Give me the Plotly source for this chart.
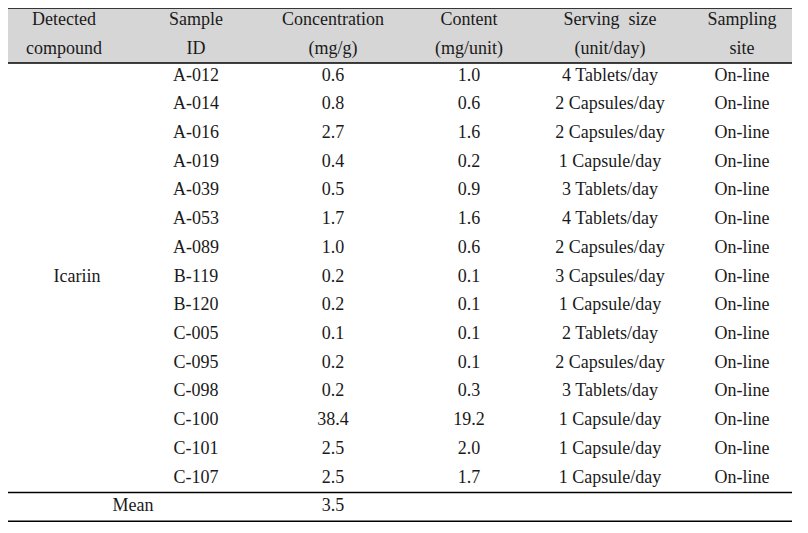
import plotly.graph_objects as go

# table content
headers = [
    ["Detected", "compound"],
    ["Sample", "ID"],
    ["Concentration", "(mg/g)"],
    ["Content", "(mg/unit)"],
    ["Serving  size", "(unit/day)"],
    ["Sampling", "site"],
]
compound = "Icariin"
sample_ids = ["A-012", "A-014", "A-016", "A-019", "A-039", "A-053", "A-089",
              "B-119", "B-120", "C-005", "C-095", "C-098", "C-100", "C-101", "C-107"]
concentration = [0.6, 0.8, 2.7, 0.4, 0.5, 1.7, 1.0, 0.2, 0.2, 0.1, 0.2, 0.2, 38.4, 2.5, 2.5]
content = [1.0, 0.6, 1.6, 0.2, 0.9, 1.6, 0.6, 0.1, 0.1, 0.1, 0.1, 0.3, 19.2, 2.0, 1.7]
serving = ["4 Tablets/day", "2 Capsules/day", "2 Capsules/day", "1 Capsule/day",
           "3 Tablets/day", "4 Tablets/day", "2 Capsules/day", "3 Capsules/day",
           "1 Capsule/day", "2 Tablets/day", "2 Capsules/day", "3 Tablets/day",
           "1 Capsule/day", "1 Capsule/day", "1 Capsule/day"]
site = ["On-line"] * 15
mean_conc = 3.5

# layout in pixel units; the page body has an 8px margin, so the figure is
# shrunk by that and the axis ranges start at 8 to keep window pixels 1:1
W, H, PAD = 808, 533, 8
col_x = [64, 196, 333, 469, 610, 742]
LEFT, RIGHT = 6, 792
TOP, HEAD_BOTTOM = 8, 63
HEAD_Y = [20, 49]
ROW0, ROW_H = 76, 28.72
FONT = dict(family="Liberation Serif", size=18, color="#1a1a1a")

n = len(sample_ids)
row_y = [ROW0 + i * ROW_H for i in range(n)]
mean_y = ROW0 + n * ROW_H
sep_y = (row_y[-1] + mean_y) / 2
bottom_y = mean_y + (mean_y - sep_y)

xs, ys, texts = [], [], []
for cx, (h1, h2) in zip(col_x, headers):
    xs += [cx, cx]
    ys += HEAD_Y
    texts += [h1, h2]

columns = [sample_ids,
           [f"{v:.1f}" for v in concentration],
           [f"{v:.1f}" for v in content],
           serving,
           site]
for cx, col in zip(col_x[1:], columns):
    xs += [cx] * n
    ys += row_y
    texts += col

# merged compound cell and mean row
xs += [77, 133, col_x[2]]
ys += [row_y[7], mean_y, mean_y]
texts += [compound, "Mean", f"{mean_conc:.1f}"]

fig = go.Figure(go.Scatter(
    x=xs, y=ys, text=texts, mode="text",
    textposition="middle center", textfont=FONT,
    hoverinfo="skip", showlegend=False, cliponaxis=False,
))

line = dict(color="black", width=1.5)
fig.add_shape(type="rect", x0=LEFT, x1=RIGHT, y0=TOP, y1=HEAD_BOTTOM,
              fillcolor="#d6d6d6", line=dict(width=0), layer="below")
for y in [TOP, HEAD_BOTTOM, sep_y, bottom_y]:
    fig.add_shape(type="line", x0=LEFT, x1=RIGHT, y0=y, y1=y, line=line)

fig.update_layout(
    width=W - PAD, height=H - PAD,
    margin=dict(l=0, r=0, t=0, b=0),
    paper_bgcolor="white", plot_bgcolor="white",
    xaxis=dict(range=[PAD, W], visible=False, fixedrange=True),
    yaxis=dict(range=[H, PAD], visible=False, fixedrange=True),
)

fig.write_html("out.html")
